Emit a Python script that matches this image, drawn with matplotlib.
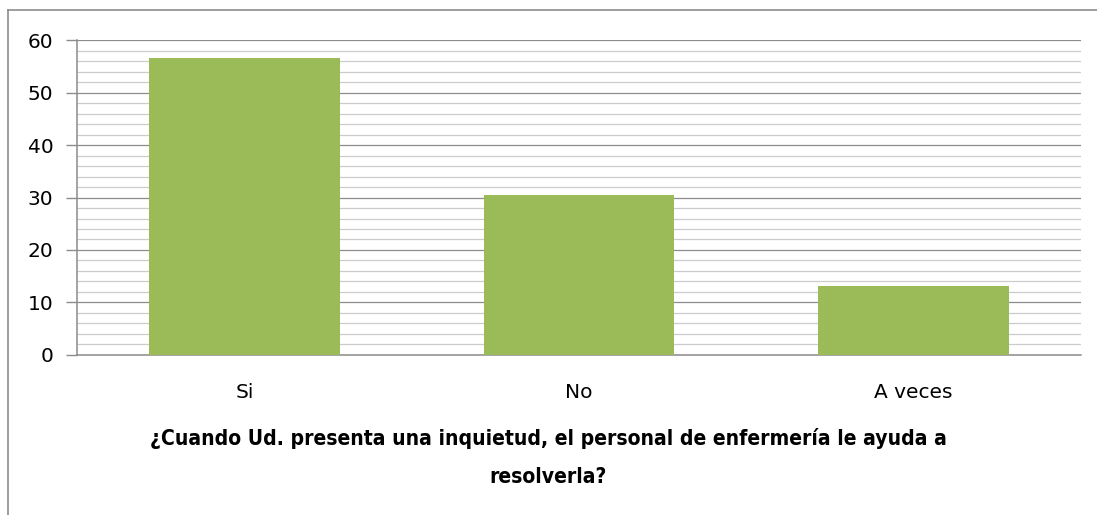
import matplotlib.pyplot as plt
from matplotlib.lines import Line2D
from matplotlib.ticker import MultipleLocator

categories = ['Si', 'No', 'A veces']
values = [56.5, 30.4, 13.1]
title = '¿Cuando Ud. presenta una inquietud, el personal de enfermería le ayuda a\nresolverla?'

fig = plt.figure(figsize=(10.97, 5.15), dpi=100)
ax = fig.add_axes([0.0702, 0.3107, 0.9152, 0.6116])

x = range(len(categories))
ax.bar(x, values, width=0.57, color='#9bbb59', zorder=3)

ax.set_xlim(-0.5, 2.5)
ax.set_ylim(0, 60)
ax.yaxis.set_major_locator(MultipleLocator(10))
ax.yaxis.set_minor_locator(MultipleLocator(2))
ax.grid(axis='y', which='major', color='#8c8c8c', linewidth=0.9, zorder=0)
ax.grid(axis='y', which='minor', color='#cccccc', linewidth=0.9, zorder=0)

ax.set_xticks(list(x))
ax.set_xticklabels(categories)
ax.tick_params(axis='x', length=0, pad=20, labelsize=14.5)
ax.tick_params(axis='y', which='major', length=8, width=1, color='#8c8c8c', labelsize=14.5, pad=9)
ax.tick_params(axis='y', which='minor', length=0)

for side in ['top', 'right']:
    ax.spines[side].set_visible(False)
for side in ['left', 'bottom']:
    ax.spines[side].set_color('#8c8c8c')
    ax.spines[side].set_linewidth(1.1)

fig.text(0.5, 0.112, title, ha='center', va='center', fontsize=15.1, fontweight='bold',
         fontstretch='condensed', family='DejaVu Sans', linespacing=2.1)

# outer chart frame: top and left edges
fig.add_artist(Line2D([0.0073, 1.0], [0.981, 0.981], color='#8c8c8c', linewidth=1.2))
fig.add_artist(Line2D([0.0073, 0.0073], [0.0, 0.981], color='#8c8c8c', linewidth=1.2))

fig.savefig('out.png', dpi=100)
